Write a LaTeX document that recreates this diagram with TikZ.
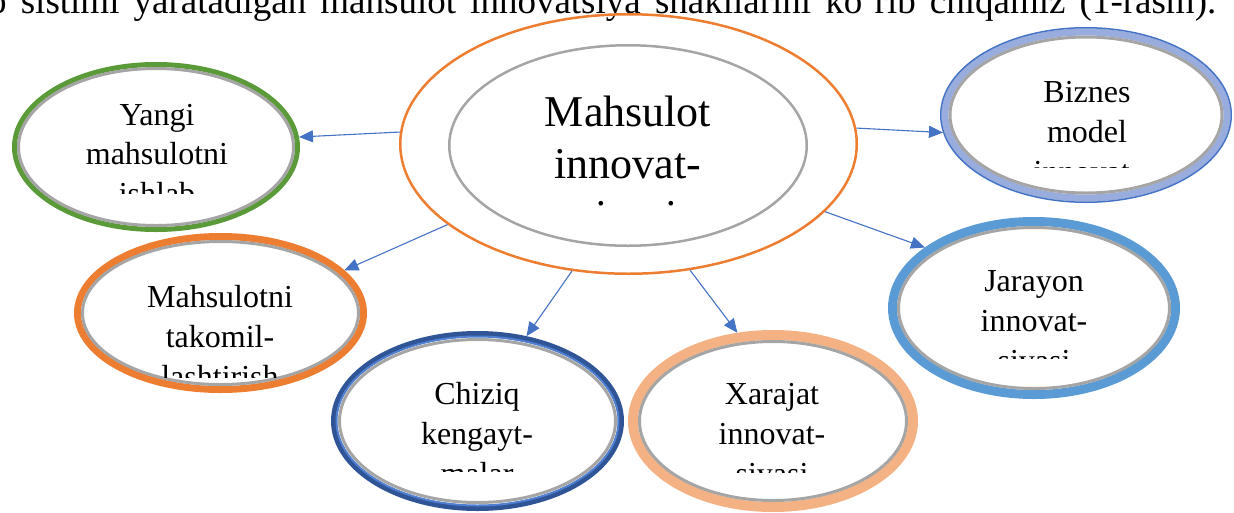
\documentclass[tikz,border=0pt]{standalone}
\usepackage{fontspec}
\setmainfont{Liberation Serif}
\usetikzlibrary{shapes.geometric,arrows.meta}
\definecolor{arrowblue}{HTML}{4472C4}
\definecolor{ringgray}{HTML}{A5A5A5}
\definecolor{orangeA}{HTML}{ED7D31}
\definecolor{greenA}{HTML}{5A9A38}
\definecolor{bizline}{HTML}{4472C4}
\definecolor{bizband}{HTML}{98ACDE}
\definecolor{chizdark}{HTML}{2F5597}
\definecolor{chizlight}{HTML}{4F7FD0}
\definecolor{peach}{HTML}{F4B183}
\definecolor{skyblue}{HTML}{5B9BD5}
\begin{document}
\begin{tikzpicture}[x=1pt,y=-1pt,
  blob/.style={ellipse, inner sep=0pt, outer sep=0pt, draw=none},
  grayring/.style={draw=ringgray, line width=3pt},
  conn/.style={draw=arrowblue, line width=1.1pt, -{Triangle[length=14pt,width=12pt]}},
  small/.style={font=\fontsize{32}{40}\selectfont, anchor=base, inner sep=0pt},
  big/.style={font=\fontsize{44}{52}\selectfont, anchor=base, inner sep=0pt}]
\useasboundingbox (0,0) rectangle (1234,512);
\clip (0,0) rectangle (1234,512);

% intro line (cut at the top)
\node[anchor=base west, inner sep=0pt, font=\fontsize{37}{40}\selectfont] (intro) at (-12,13)
  {\makebox[1228pt][s]{o sistimi yaratadigan mahsulot innovatsiya shakllarini ko‘rib chiqamiz (1-rasm).}};

% central ellipse
\node[blob, minimum width=459pt, minimum height=262pt] (c) at (628.5,144) {};
\draw[draw=orangeA, line width=2.5pt] (c.center) ellipse [x radius=228.25pt, y radius=129.75pt];
\draw[grayring, line width=2.5pt] (628,145.5) ellipse [x radius=178.75pt, y radius=100.25pt];
\begin{scope}
  \clip (450,60) rectangle (806,206);
  \node[big] (c1) at (628,126) {Mahsulot};
  \node[big] (c2) at (628,178) {innovat-};
  \node[big] (c3) at (628,230) {siyasi};
\end{scope}

% Yangi
\node[blob, minimum width=288pt, minimum height=170pt] (yangi) at (156,147) {};
\draw[draw=greenA, line width=5pt] (yangi.center) ellipse [x radius=141.5pt, y radius=82.5pt];
\draw[grayring] (yangi.center) ellipse [x radius=137.5pt, y radius=78.5pt];
\begin{scope}
  \clip (20,80) rectangle (290,193);
  \node[small] (y1) at (157,125) {Yangi};
  \node[small] (y2) at (157,164) {mahsulotni};
  \node[small] (y3) at (157,204) {ishlab};
\end{scope}

% Biznes
\node[blob, minimum width=292pt, minimum height=176pt] (biznes) at (1086,115) {};
\draw[draw=bizband, line width=7pt] (biznes.center) ellipse [x radius=141pt, y radius=83pt];
\draw[draw=bizline, line width=1.5pt] (biznes.center) ellipse [x radius=145.25pt, y radius=87.25pt];
\draw[grayring] (biznes.center) ellipse [x radius=136pt, y radius=78pt];
\begin{scope}
  \clip (950,50) rectangle (1220,167);
  \node[small] (b1) at (1087,102) {Biznes};
  \node[small] (b2) at (1087,142) {model};
  \node[small] (b3) at (1087,182) {innovat-};
\end{scope}

% Mahsulotni takomillashtirish
\node[blob, minimum width=293pt, minimum height=160pt] (mahs) at (220.5,313) {};
\draw[draw=orangeA, line width=7pt] (mahs.center) ellipse [x radius=143pt, y radius=76.5pt];
\draw[grayring] (mahs.center) ellipse [x radius=138pt, y radius=71.5pt];
\begin{scope}
  \clip (85,255) rectangle (355,377);
  \node[small] (m1) at (220,307) {Mahsulotni};
  \node[small] (m2) at (220,347) {takomil-};
  \node[small] (m3) at (220,387) {lashtirish};
\end{scope}

% Chiziq
\node[blob, minimum width=293pt, minimum height=180pt] (chiziq) at (477.5,421) {};
\draw[draw=chizdark, line width=6pt] (chiziq.center) ellipse [x radius=143.5pt, y radius=87pt];
\draw[draw=chizlight, line width=2pt] (chiziq.center) ellipse [x radius=141pt, y radius=84.5pt];
\draw[grayring] (chiziq.center) ellipse [x radius=138pt, y radius=81.5pt];
\begin{scope}
  \clip (340,355) rectangle (615,471);
  \node[small] (ch1) at (477,404) {Chiziq};
  \node[small] (ch2) at (477,444) {kengayt-};
  \node[small] (ch3) at (477,484) {malar};
\end{scope}

% Xarajat
\node[blob, minimum width=290pt, minimum height=182pt] (xarajat) at (773,421) {};
\draw[draw=peach, line width=10pt] (xarajat.center) ellipse [x radius=140pt, y radius=86pt];
\draw[grayring] (xarajat.center) ellipse [x radius=133.5pt, y radius=79.5pt];
\begin{scope}
  \clip (640,355) rectangle (905,472);
  \node[small] (x1) at (772,404) {Xarajat};
  \node[small] (x2) at (772,444) {innovat-};
  \node[small] (x3) at (772,484) {siyasi};
\end{scope}

% Jarayon
\node[blob, minimum width=292pt, minimum height=182pt] (jarayon) at (1034,308) {};
\draw[draw=skyblue, line width=9pt] (jarayon.center) ellipse [x radius=141.5pt, y radius=86.5pt];
\draw[grayring] (jarayon.center) ellipse [x radius=135.5pt, y radius=80.5pt];
\begin{scope}
  \clip (900,245) rectangle (1170,358);
  \node[small] (j1) at (1034,291) {Jarayon};
  \node[small] (j2) at (1034,331) {innovat-};
  \node[small] (j3) at (1034,371) {siyasi};
\end{scope}

% connectors
\draw[conn] (c.177) -- (yangi.4);
\draw[conn] (c.4) -- (biznes.187);
\draw[conn] (c.204) -- (mahs.19);
\draw[conn] (c.246) -- (chiziq.60);
\draw[conn] (c.296) -- (xarajat.112);
\draw[conn] (c.341) -- (jarayon.151);
\end{tikzpicture}
\end{document}
